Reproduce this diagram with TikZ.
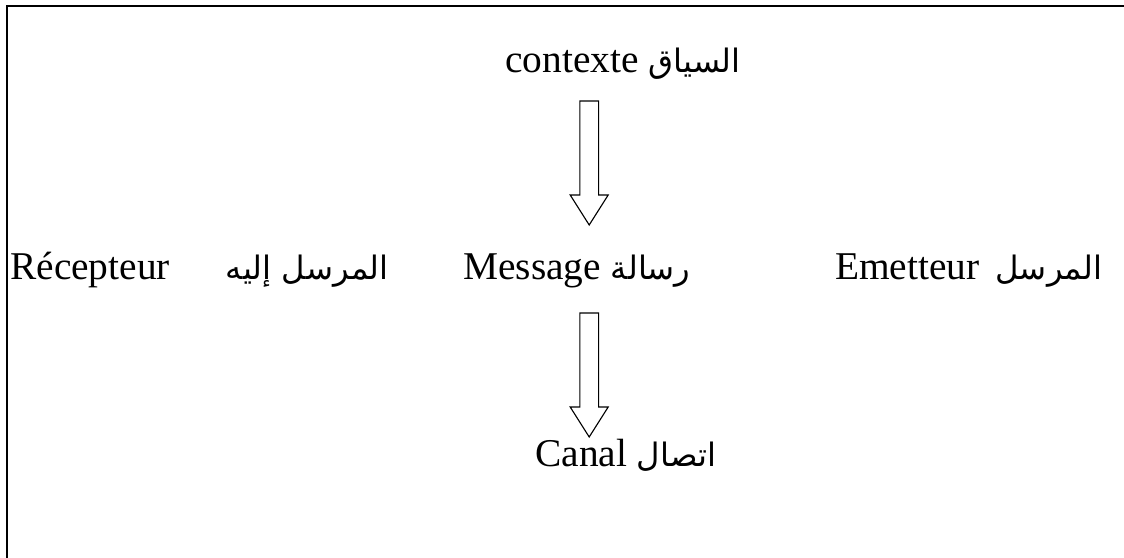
\documentclass[tikz,border=0pt]{standalone}
\usepackage{fontspec}
\setmainfont{Liberation Serif}
\newfontfamily\arabicfont[Script=Arabic,Scale=0.82]{DejaVu Sans}
\TeXXeTstate=1
\usetikzlibrary{calc,positioning}
\newcommand{\artxt}[1]{{\arabicfont\beginR #1\endR}}
\tikzset{
    word/.style={anchor=base west, inner sep=0pt},
    hollow/.style={line width=0.8pt, line join=miter,
        to path={let \p1=(\tikztostart), \p2=(\tikztotarget) in
            (\x1-0.234cm,\y1) -- (\x1-0.234cm,\y2+0.75cm) -- (\x1-0.475cm,\y2+0.75cm)
            -- (\x2,\y2) -- (\x1+0.475cm,\y2+0.75cm) -- (\x1+0.234cm,\y2+0.75cm)
            -- (\x1+0.234cm,\y1) -- cycle}}
}

\begin{document}
\begin{tikzpicture}[font=\fontsize{28}{34}\selectfont]

\path[use as bounding box, clip] (0,0) rectangle (28.1,13.95);

% ---- Frame (right and bottom edges lie off the page) ----
\draw[line width=1.4pt] (0.175,-1) rectangle (29,13.8);

% ---- Labels ----
\node[word] (contexte) at (12.625,12.125) {contexte\ \artxt{السياق}};
\node[word] (message) at (11.575,6.95) {Message\ \artxt{رسالة}};
\node[word] (emetteur) at (20.875,6.95) {Emetteur\hspace{0.4cm}\artxt{المرسل}};
\node[word] (recepteur) at (0.25,6.95) {Récepteur\hspace{1.4cm}\artxt{المرسل إليه}};
\node[word] (canal) at (13.375,2.275) {Canal\ \artxt{اتصال}};

% ---- Hollow arrows ----
\coordinate (axis) at (14.73,0);
\draw[hollow] ($(contexte.base -| axis)+(0,-0.7)$) to ($(message.base -| axis)+(0,1.375)$);
\draw[hollow] ($(message.base -| axis)+(0,-0.825)$) to ($(canal.base -| axis)+(0,0.75)$);

\end{tikzpicture}
\end{document}
